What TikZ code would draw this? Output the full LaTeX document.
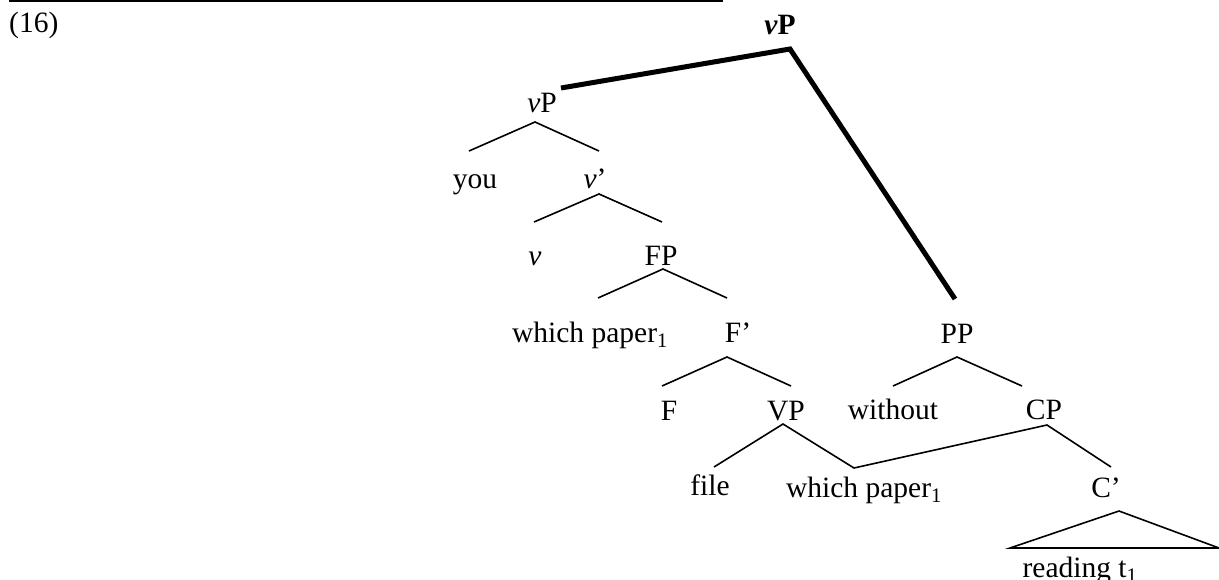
\documentclass[tikz,border=0pt]{standalone}
\usepackage{fontspec}
\setmainfont{Liberation Serif}
\usetikzlibrary{calc}
\begin{document}
\begin{tikzpicture}[x=1pt,y=1pt,
  tn/.style={inner sep=0pt, anchor=base, font=\fontsize{29.5}{34}\selectfont},
  br/.style={line width=1.6pt, line join=miter},
  heavy/.style={line width=5pt, line join=miter},
  rule/.style={line width=2.4pt}]
\useasboundingbox (0,0) rectangle (1219,-579);
% header rule
\coordinate (ruleL) at (9,-1.2);
\coordinate (ruleR) at (723,-1.2);
\draw[rule] (ruleL) -- (ruleR);
% labels
\node[tn, anchor=base west] (ex) at (9,-32) {(16)};
\node[tn] (vPtop) at (780,-34) {\textbf{\textit{v}P}};
\node[tn] (vP) at (542,-112) {\textit{v}P};
\node[tn] (you) at (475,-188) {you};
\node[tn] (vbar) at (595,-188) {\textit{v}’};
\node[tn] (v) at (535,-265) {\textit{v}};
\node[tn] (FP) at (661,-265) {FP};
\node[tn] (wp1) at (590,-342) {which paper\textsubscript{1}};
\node[tn] (Fbar) at (738,-342) {F’};
\node[tn] (PP) at (957,-343) {PP};
\node[tn] (F) at (669,-420) {F};
\node[tn] (VP) at (786,-420) {VP};
\node[tn] (without) at (893,-419) {without};
\node[tn] (CP) at (1044,-419) {CP};
\node[tn] (file) at (710,-495) {file};
\node[tn] (wp2) at (864,-497) {which paper\textsubscript{1}};
\node[tn] (Cbar) at (1106,-497) {C’};
\node[tn] (reading) at (1080,-577) {reading t\textsubscript{1}};
% branch points
\coordinate (topA) at (790,-49);
\coordinate (topL) at (561,-88);
\coordinate (topR) at (955,-299);
\coordinate (vPa) at (535,-122);
\coordinate (vPl) at (469,-151);
\coordinate (vPr) at (599,-151);
\coordinate (vba) at (599,-194);
\coordinate (vbl) at (534,-222);
\coordinate (vbr) at (662,-222);
\coordinate (FPa) at (663,-269);
\coordinate (FPl) at (598,-298);
\coordinate (FPr) at (727,-298);
\coordinate (Fba) at (727,-357);
\coordinate (Fbl) at (662,-386);
\coordinate (Fbr) at (791,-386);
\coordinate (PPa) at (957,-357);
\coordinate (PPl) at (893,-386);
\coordinate (PPr) at (1022,-386);
\coordinate (VPa) at (783,-424);
\coordinate (VPl) at (714,-467);
\coordinate (VPr) at (854,-468);
\coordinate (CPa) at (1047,-425);
\coordinate (CPr) at (1111,-467);
\coordinate (Cba) at (1119,-511);
\coordinate (Cbl) at (1010,-548);
\coordinate (Cbr) at (1219,-548);
% branches
\draw[heavy] (topL) -- (topA) -- (topR);
\draw[br] (vPl) -- (vPa) -- (vPr);
\draw[br] (vbl) -- (vba) -- (vbr);
\draw[br] (FPl) -- (FPa) -- (FPr);
\draw[br] (Fbl) -- (Fba) -- (Fbr);
\draw[br] (PPl) -- (PPa) -- (PPr);
\draw[br] (VPl) -- (VPa) -- (VPr) -- (CPa) -- (CPr);
\draw[br] (Cbl) -- (Cba) -- (Cbr) -- cycle;
\end{tikzpicture}
\end{document}
